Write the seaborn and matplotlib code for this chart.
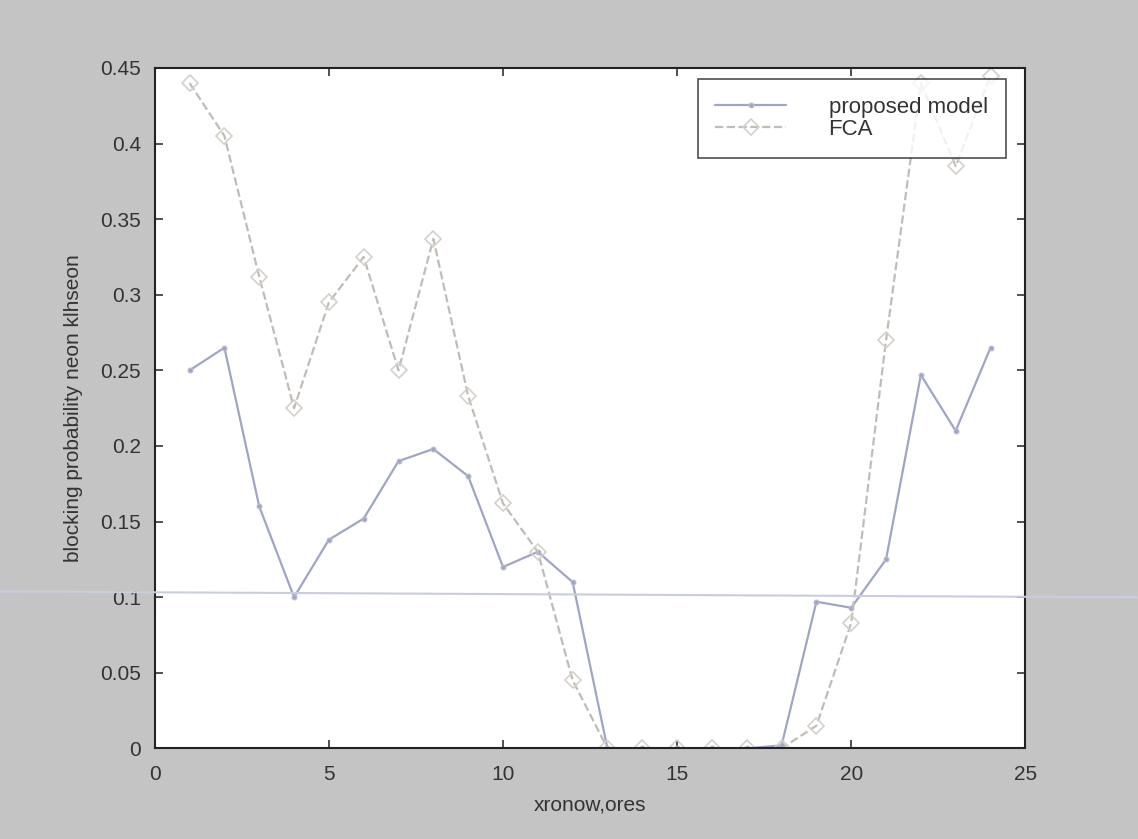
import numpy as np
import pandas as pd
import matplotlib
matplotlib.use("Agg")
import matplotlib.pyplot as plt
from matplotlib.lines import Line2D
import seaborn as sns

# ores (hours)
hours = list(range(1, 25))
proposed = [0.250, 0.265, 0.160, 0.100, 0.138, 0.152, 0.190, 0.198, 0.180, 0.120,
            0.130, 0.110, 0.000, 0.000, 0.000, 0.000, 0.000, 0.002, 0.097, 0.093,
            0.125, 0.247, 0.210, 0.265]
fca = [0.440, 0.405, 0.312, 0.225, 0.295, 0.325, 0.250, 0.337, 0.233, 0.162,
       0.130, 0.045, 0.000, 0.000, 0.000, 0.000, 0.000, 0.000, 0.015, 0.083,
       0.270, 0.440, 0.385, 0.445]
x_ticks = [0, 5, 10, 15, 20, 25]
y_ticks = [0, 0.05, 0.1, 0.15, 0.2, 0.25, 0.3, 0.35, 0.4, 0.45]
y_labels = ["0", "0.05", "0.1", "0.15", "0.2", "0.25", "0.3", "0.35", "0.4", "0.45"]

df = pd.DataFrame({"x": hours, "proposed": proposed, "fca": fca})

sns.set_style("white")
plt.rcParams['font.family'] = ['Liberation Sans', 'DejaVu Sans']

fig = plt.figure(figsize=(11.38, 8.39), dpi=100, facecolor="#c4c4c4")
ax = fig.add_axes([0.136, 0.108, 0.765, 0.811])
ax.set_facecolor("white")

sns.lineplot(data=df, x="x", y="proposed", ax=ax, color="#9fa6c4", lw=1.6,
             marker=".", markersize=7, markeredgecolor="#b8bdd4",
             label="proposed model")
sns.lineplot(data=df, x="x", y="fca", ax=ax, color="#c2bcb6", lw=1.6,
             linestyle="--", marker="D", markersize=8,
             markerfacecolor="none", markeredgecolor="#d4d0cc",
             markeredgewidth=1.2, label="FCA")

ax.set_xlim(0, 25)
ax.set_ylim(0, 0.45)
ax.set_xticks(x_ticks)
ax.set_yticks(y_ticks)
ax.set_yticklabels(y_labels)
ax.tick_params(direction="in", length=6, labelsize=15, colors="#333333",
               top=True, right=True, bottom=True, left=True, width=1.2)
ax.tick_params(axis="x", pad=12)
ax.tick_params(axis="y", pad=10)
for s in ax.spines.values():
    s.set_color("#222222")
    s.set_linewidth(1.5)

ax.set_xlabel("xronow,ores", fontsize=15, color="#333333", labelpad=8)
ax.set_ylabel("blocking probability neon klhseon", fontsize=15, color="#333333",
              labelpad=12)

leg = ax.legend(loc="upper right", fontsize=16, frameon=True, fancybox=False,
                borderpad=0.8, handlelength=3.2, handletextpad=1.9,
                labelspacing=0.05, bbox_to_anchor=(0.99, 1.0))
leg.get_frame().set_edgecolor("#222222")
leg.get_frame().set_linewidth(1.2)
for t in leg.get_texts():
    t.set_color("#333333")

# faint scan line across the page
fig.add_artist(Line2D([0, 1], [0.295, 0.288], transform=fig.transFigure,
                      color="#c9cde0", lw=1.5))

fig.savefig("out.png", dpi=100, facecolor=fig.get_facecolor())
